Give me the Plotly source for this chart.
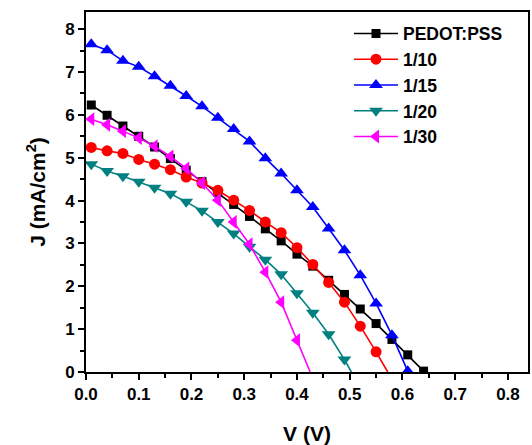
import plotly.graph_objects as go

# Sampled bias voltages (V) for each device
v_pedot = [0.01, 0.04, 0.07, 0.10, 0.13, 0.16, 0.19, 0.22, 0.25, 0.28, 0.31,
           0.34, 0.37, 0.40, 0.43, 0.46, 0.49, 0.52, 0.55, 0.58, 0.61, 0.64]
v_110 = v_pedot[:19]
v_115 = v_pedot[:21]
v_120 = v_pedot[:17]
v_130 = v_pedot[:14]

# Current density (mA/cm^2)
j_pedot = [6.23, 5.99, 5.74, 5.50, 5.25, 4.98, 4.71, 4.44, 4.19, 3.91, 3.63,
           3.34, 3.06, 2.75, 2.47, 2.14, 1.81, 1.47, 1.13, 0.76, 0.40, 0.02]
j_110 = [5.24, 5.16, 5.10, 4.96, 4.85, 4.72, 4.55, 4.41, 4.24, 4.01, 3.77,
         3.50, 3.25, 2.90, 2.51, 2.09, 1.63, 1.07, 0.47]
j_115 = [7.65, 7.51, 7.26, 7.12, 6.90, 6.68, 6.44, 6.20, 5.93, 5.67, 5.38,
         4.99, 4.63, 4.24, 3.85, 3.35, 2.84, 2.26, 1.60, 0.86, 0.02]
j_120 = [4.85, 4.69, 4.57, 4.44, 4.30, 4.16, 3.97, 3.76, 3.50, 3.23, 2.92,
         2.62, 2.28, 1.84, 1.38, 0.88, 0.29]
j_130 = [5.90, 5.77, 5.62, 5.46, 5.27, 5.03, 4.75, 4.41, 4.01, 3.50, 2.98,
         2.33, 1.63, 0.74]

# Open-circuit voltages where the fitted curves reach J = 0
voc_110 = 0.572
voc_120 = 0.503
voc_130 = 0.425

series = [
    ("PEDOT:PSS", v_pedot, j_pedot, None, "#000000", "square", 9),
    ("1/10", v_110, j_110, voc_110, "#FF0000", "circle", 11),
    ("1/15", v_115, j_115, None, "#0000FF", "triangle-up", 12),
    ("1/20", v_120, j_120, voc_120, "#008080", "triangle-down", 12),
    ("1/30", v_130, j_130, voc_130, "#FF00FF", "triangle-left", 12),
]

fig = go.Figure()
for name, v, j, voc, color, symbol, size in series:
    if voc is not None:
        # line segment continuing from the last sample down to J = 0
        fig.add_trace(go.Scatter(
            x=[v[-1], voc], y=[j[-1], 0], mode="lines",
            line=dict(color=color, width=1.6), showlegend=False,
            hoverinfo="skip"))
for name, v, j, voc, color, symbol, size in series:
    fig.add_trace(go.Scatter(
        x=v, y=j, name=name, mode="lines+markers",
        line=dict(color=color, width=1.6),
        marker=dict(symbol=symbol, size=size, color=color,
                    line=dict(width=0)),
    ))

font_family = "Arial, Liberation Sans, sans-serif"

fig.update_layout(
    width=532, height=445,
    margin=dict(l=86, r=2, t=12, b=73),
    plot_bgcolor="white", paper_bgcolor="white",
    font=dict(family=font_family, color="black"),
    showlegend=True,
    legend=dict(
        x=0.595, y=0.99, xanchor="left", yanchor="top",
        bgcolor="rgba(0,0,0,0)", borderwidth=0,
        itemwidth=44, tracegroupgap=0,
        font=dict(family=font_family, size=17.5, color="black", weight="bold"),
    ),
    xaxis=dict(
        range=[0, 0.838], dtick=0.1, tick0=0, tickformat=".1f",
        showgrid=False, zeroline=False,
        showline=True, linecolor="black", linewidth=2, mirror=True,
        ticks="outside", ticklen=6, tickwidth=1.5, tickcolor="black",
        minor=dict(dtick=0.05, ticks="outside", ticklen=4, tickwidth=1.5,
                   tickcolor="black", showgrid=False),
        tickfont=dict(family=font_family, size=17, weight="bold"),
        title=dict(text="V (V)", standoff=24,
                   font=dict(family=font_family, size=21, weight="bold")),
    ),
    yaxis=dict(
        range=[0, 8.4], dtick=1, tick0=0,
        showgrid=False, zeroline=False,
        showline=True, linecolor="black", linewidth=2, mirror=True,
        ticks="outside", ticklen=6, tickwidth=1.5, tickcolor="black",
        minor=dict(dtick=0.5, ticks="outside", ticklen=4, tickwidth=1.5,
                   tickcolor="black", showgrid=False),
        tickfont=dict(family=font_family, size=17, weight="bold"),
        title=dict(text="J (mA/cm<sup>2</sup>)", standoff=14,
                   font=dict(family=font_family, size=21, weight="bold")),
    ),
)

fig.write_html("out.html")
